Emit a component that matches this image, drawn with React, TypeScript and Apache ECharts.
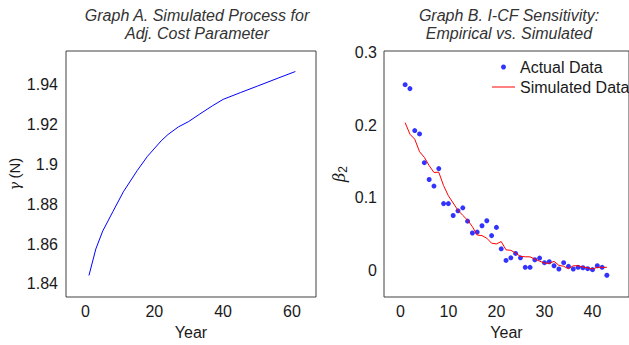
import React, { useEffect, useRef } from "react";
import * as echarts from "echarts";

// Graph A: simulated adjustment-cost parameter gamma(N)
const gammaYears = [1, 3, 5, 8, 11, 15, 18, 22, 24, 27, 30, 33, 37, 40, 45, 50, 56, 61];
const gammaValues = [1.8442, 1.8575, 1.8665, 1.8764, 1.8862, 1.8968, 1.904, 1.9118, 1.915, 1.9188, 1.9215, 1.925, 1.9295, 1.9326, 1.936, 1.9393, 1.9433, 1.9466];

// Graph B: I-CF sensitivity
const betaYears = [
  1, 2, 3, 4, 5, 6, 7, 8, 9, 10, 11, 12, 13, 14, 15, 16, 17, 18, 19, 20, 21, 22,
  23, 24, 25, 26, 27, 28, 29, 30, 31, 32, 33, 34, 35, 36, 37, 38, 39, 40, 41, 42, 43,
];
const actualBeta = [
  0.2557, 0.2503, 0.1926, 0.188, 0.1485, 0.1253, 0.1163, 0.1403, 0.0922, 0.0922,
  0.0759, 0.0823, 0.0864, 0.0681, 0.0518, 0.0531, 0.0618, 0.0686, 0.0482, 0.0595,
  0.03, 0.0141, 0.0177, 0.0237, 0.0177, 0.0046, 0.0046, 0.015, 0.0173, 0.011,
  0.0123, 0.0068, 0.0023, 0.011, 0.006, 0.0023, 0.0046, 0.004, 0.0027, 0.0014,
  0.0068, 0.0046, -0.0063,
];
const simulatedBeta = [
  0.2035, 0.1876, 0.1808, 0.1635, 0.1558, 0.1444, 0.135, 0.1354, 0.117, 0.103,
  0.093, 0.083, 0.076, 0.0695, 0.0605, 0.049, 0.0482, 0.0446, 0.0377, 0.0368,
  0.04, 0.0286, 0.028, 0.0241, 0.0196, 0.0191, 0.019, 0.016, 0.013, 0.0105,
  0.0101, 0.0128, 0.0074, 0.006, 0.0027, 0.0068, 0.0068, 0.005, 0.004, 0.0023,
  0.0046, 0.0046, 0.0046,
];

const xTicksA = [0, 20, 40, 60];
const yTicksA = [1.84, 1.86, 1.88, 1.9, 1.92, 1.94];
const xTicksB = [0, 10, 20, 30, 40];
const yTicksB = [0, 0.1, 0.2, 0.3];

const FONT = "'Liberation Sans', Arial, Helvetica, sans-serif";
const TEXT = "#1a1a1a";

export default function App() {
  const ref = useRef<HTMLDivElement>(null);
  useEffect(() => {
    if (!ref.current) return;
    const chart = echarts.init(ref.current, null, { renderer: "svg" });
    const fmt = (v: number) => String(+Number(v).toFixed(2));
    const axisCommon = {
      type: "value",
      axisLine: { show: false },
      axisTick: { show: false },
      splitLine: { show: false },
      nameLocation: "middle",
      nameTextStyle: { fontSize: 16, color: TEXT, fontFamily: FONT },
    };
    const option: any = {
      animation: false,
      textStyle: { fontFamily: FONT },
      graphic: [
        {
          type: "text",
          x: 197,
          y: 6,
          style: {
            text: "Graph A. Simulated Process for\nAdj. Cost Parameter",
            fontSize: 16,
            fontStyle: "italic",
            fontFamily: FONT,
            fill: "#333",
            align: "center",
            verticalAlign: "top",
            lineHeight: 18,
          },
        },
        {
          type: "text",
          x: 509,
          y: 6,
          style: {
            text: "Graph B. I-CF Sensitivity:\nEmpirical vs. Simulated",
            fontSize: 16,
            fontStyle: "italic",
            fontFamily: FONT,
            fill: "#333",
            align: "center",
            verticalAlign: "top",
            lineHeight: 18,
          },
        },
      ],
      grid: [
        { left: 66, top: 51, width: 250, height: 249, show: true, borderColor: "#404040", borderWidth: 1 },
        { left: 384, top: 51, width: 250, height: 249, show: true, borderColor: "#404040", borderWidth: 1 },
      ],
      legend: {
        orient: "vertical",
        left: 487,
        top: 54,
        padding: 5,
        itemWidth: 23,
        itemHeight: 5,
        itemGap: 4,
        textStyle: { fontSize: 16, color: TEXT, fontFamily: FONT },
        data: [
          { name: "Actual Data", icon: "circle" },
          { name: "Simulated Data", icon: "path://M0,0L46,0L46,2L0,2Z" },
        ],
      },
      xAxis: [
        {
          ...axisCommon,
          gridIndex: 0,
          min: -5.67,
          max: 67,
          name: "Year",
          nameGap: 27,
          axisLabel: { customValues: xTicksA, fontSize: 16, color: TEXT, margin: 6, fontFamily: FONT },
        },
        {
          ...axisCommon,
          gridIndex: 1,
          min: -3.4,
          max: 47.6,
          name: "Year",
          nameGap: 27,
          axisLabel: { customValues: xTicksB, fontSize: 16, color: TEXT, margin: 6, fontFamily: FONT },
        },
      ],
      yAxis: [
        {
          ...axisCommon,
          gridIndex: 0,
          min: 1.8334,
          max: 1.9569,
          name: "{g|γ} {n|(N)}",
          nameGap: 44,
          nameTextStyle: {
            color: TEXT,
            rich: {
              g: { fontFamily: "'DejaVu Serif', serif", fontStyle: "italic", fontSize: 14, color: TEXT },
              n: { fontFamily: FONT, fontSize: 15, color: TEXT },
            },
          },
          axisLabel: { customValues: yTicksA, fontSize: 16, color: TEXT, margin: 8, fontFamily: FONT, formatter: fmt },
        },
        {
          ...axisCommon,
          gridIndex: 1,
          min: -0.0362,
          max: 0.302,
          name: "{b|β}{s|2}",
          nameGap: 35,
          nameTextStyle: {
            color: TEXT,
            rich: {
              b: { fontFamily: "'DejaVu Serif', serif", fontStyle: "italic", fontSize: 16, color: TEXT },
              s: { fontFamily: FONT, fontSize: 12, color: TEXT, padding: [8, 0, 0, 0] },
            },
          },
          axisLabel: { customValues: yTicksB, fontSize: 16, color: TEXT, margin: 7, fontFamily: FONT, formatter: fmt },
        },
      ],
      series: [
        {
          type: "line",
          xAxisIndex: 0,
          yAxisIndex: 0,
          symbol: "none",
          lineStyle: { color: "#0000ff", width: 1 },
          data: gammaYears.map((x, i) => [x, gammaValues[i]]),
        },
        {
          name: "Actual Data",
          type: "scatter",
          xAxisIndex: 1,
          yAxisIndex: 1,
          symbol: "circle",
          symbolSize: 5,
          itemStyle: { color: "#0000ff" },
          data: betaYears.map((x, i) => [x, actualBeta[i]]),
        },
        {
          name: "Simulated Data",
          type: "line",
          xAxisIndex: 1,
          yAxisIndex: 1,
          symbol: "none",
          lineStyle: { color: "#ff0000", width: 1 },
          itemStyle: { color: "#ff0000" },
          data: betaYears.map((x, i) => [x, simulatedBeta[i]]),
        },
      ],
    };
    chart.setOption(option);
    return () => chart.dispose();
  }, []);
  return <div ref={ref} style={{ width: 629, height: 345, position: "absolute", left: 0, top: 0 }} />;
}
